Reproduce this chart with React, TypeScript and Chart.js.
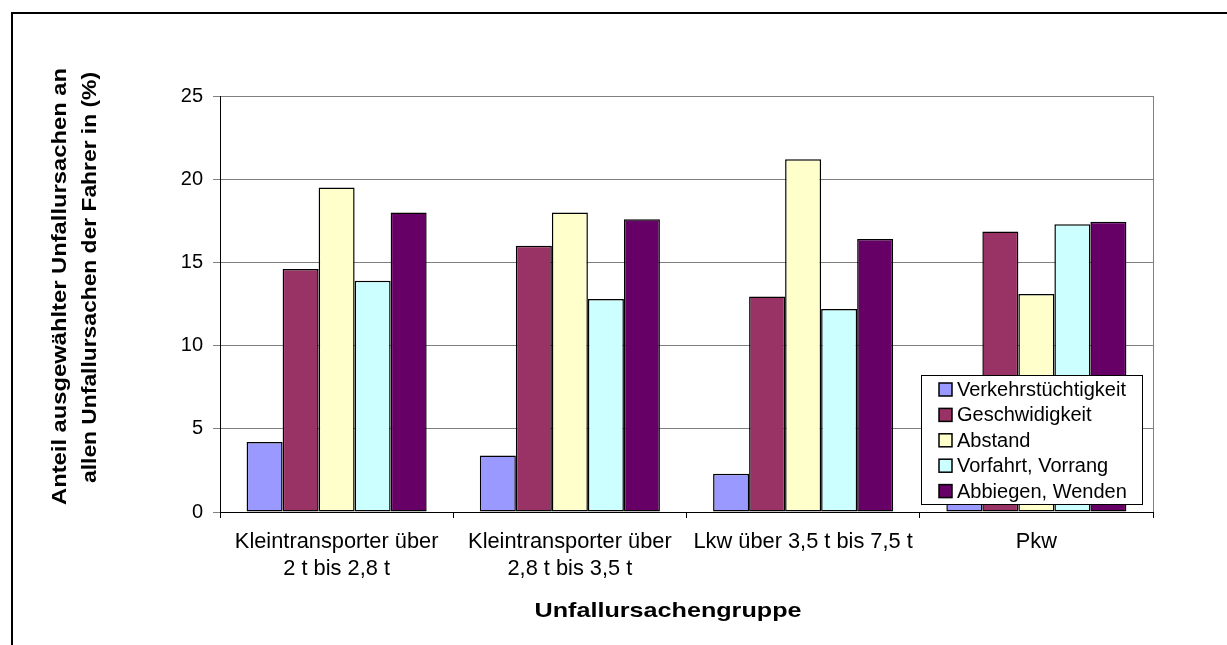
import React, { useEffect, useRef } from "react";
import { Chart, registerables } from "chart.js";

Chart.register(...registerables);

const FONT = "'Liberation Sans', Arial, Helvetica, sans-serif";

const categories: string[][] = [
  ["Kleintransporter über", "2 t bis 2,8 t"],
  ["Kleintransporter über", "2,8 t bis 3,5 t"],
  ["Lkw über 3,5 t bis 7,5 t"],
  ["Pkw"],
];
const seriesNames = [
  "Verkehrstüchtigkeit",
  "Geschwidigkeit",
  "Abstand",
  "Vorfahrt, Vorrang",
  "Abbiegen, Wenden",
];
const verkehrstuechtigkeit = [4.2, 3.4, 2.3, 1.5];
const geschwidigkeit = [14.6, 16.0, 12.95, 16.85];
const abstand = [19.5, 18.0, 21.2, 13.1];
const vorfahrt = [13.9, 12.8, 12.2, 17.3];
const abbiegen = [18.0, 17.6, 16.4, 17.45];
const seriesColors = ["#9999FF", "#993366", "#FFFFCC", "#CCFFFF", "#660066"];
const yTicks = [0, 5, 10, 15, 20, 25];
const yTitleLines = [
  "Anteil ausgewählter Unfallursachen an",
  "allen Unfallursachen der Fahrer in (%)",
];
const xTitle = "Unfallursachengruppe";

function drawStretched(
  ctx: CanvasRenderingContext2D,
  text: string,
  x: number,
  y: number,
  target: number
) {
  const w = ctx.measureText(text).width;
  const k = target / w;
  ctx.save();
  ctx.translate(x, y);
  ctx.scale(k, 1);
  ctx.fillText(text, 0, 0);
  ctx.restore();
}

const decorPlugin = {
  id: "decor",
  afterDraw(chart: any) {
    const ctx: CanvasRenderingContext2D = chart.ctx;
    const ca = chart.chartArea;
    ctx.save();

    // outer frame (top + left)
    ctx.fillStyle = "#000";
    ctx.fillRect(11, 12, chart.width - 11, 2);
    ctx.fillRect(11, 12, 2, chart.height - 12);

    // right border of plot area
    ctx.strokeStyle = "#808080";
    ctx.lineWidth = 1;
    ctx.beginPath();
    ctx.moveTo(Math.round(ca.right) + 0.5, ca.top);
    ctx.lineTo(Math.round(ca.right) + 0.5, ca.bottom);
    ctx.stroke();

    // y axis title
    ctx.fillStyle = "#000";
    ctx.font = `bold 21px ${FONT}`;
    ctx.textAlign = "center";
    ctx.textBaseline = "alphabetic";
    const yLines = [
      { x: 66, y: 286.5, w: 437 },
      { x: 96, y: 277.5, w: 411 },
    ];
    yTitleLines.forEach((t, i) => {
      ctx.save();
      ctx.translate(yLines[i].x, yLines[i].y);
      ctx.rotate(-Math.PI / 2);
      drawStretched(ctx, t, 0, 0, yLines[i].w);
      ctx.restore();
    });

    // x axis title
    drawStretched(ctx, xTitle, 668, 617, 267);

    // legend
    const bx = Math.round(ca.right) - 232;
    const by = Math.round(ca.bottom) - 137;
    const bw = 221;
    const bh = 129;
    ctx.fillStyle = "#fff";
    ctx.fillRect(bx, by, bw, bh);
    ctx.strokeStyle = "#000";
    ctx.lineWidth = 1;
    ctx.strokeRect(bx + 0.5, by + 0.5, bw, bh);
    ctx.font = `20px ${FONT}`;
    ctx.textAlign = "left";
    ctx.textBaseline = "middle";
    chart.data.datasets.forEach((ds: any, i: number) => {
      const cy = by + 14.5 + i * 25.4;
      ctx.fillStyle = ds.backgroundColor;
      ctx.fillRect(bx + 18, cy - 6.5, 13, 13);
      ctx.strokeStyle = "#000";
      ctx.lineWidth = 1.5;
      ctx.strokeRect(bx + 18, cy - 6.5, 13, 13);
      ctx.fillStyle = "#000";
      ctx.fillText(ds.label, bx + 36, cy + 1);
    });

    ctx.restore();
  },
};

export default function App() {
  const canvasRef = useRef<HTMLCanvasElement | null>(null);

  useEffect(() => {
    if (!canvasRef.current) return;
    const values = [verkehrstuechtigkeit, geschwidigkeit, abstand, vorfahrt, abbiegen];
    const chart = new Chart(canvasRef.current, {
      type: "bar",
      data: {
        labels: categories as any,
        datasets: seriesNames.map((name, i) => ({
          label: name,
          data: values[i],
          backgroundColor: seriesColors[i],
          borderColor: "#000",
          borderWidth: 1.5,
          borderSkipped: false as any,
          categoryPercentage: 0.772,
          barPercentage: 1,
        })),
      },
      options: {
        responsive: false,
        animation: false,
        devicePixelRatio: 1,
        layout: { padding: { top: 96, right: 74, left: 0, bottom: 0 } },
        plugins: {
          legend: { display: false },
          tooltip: { enabled: false },
          title: { display: false },
        },
        scales: {
          x: {
            offset: true,
            grid: {
              display: true,
              offset: true,
              drawOnChartArea: false,
              drawTicks: true,
              tickLength: 6,
              color: "#000",
              lineWidth: 1,
            },
            border: { display: true, color: "#000", width: 1 },
            ticks: {
              color: "#000",
              font: { family: FONT, size: 21.8, lineHeight: 1.24 },
              padding: 10,
              maxRotation: 0,
              minRotation: 0,
              autoSkip: false,
            },
            afterFit: (s: any) => {
              s.height = 133;
            },
          },
          y: {
            min: 0,
            max: 25,
            afterBuildTicks: (s: any) => {
              s.ticks = yTicks.map((v) => ({ value: v }));
            },
            ticks: {
              color: "#000",
              font: { family: FONT, size: 20 },
              padding: 10,
            },
            grid: {
              color: (c: any) => (c.tick && c.tick.value === 0 ? "#000" : "#808080"),
              tickColor: "#808080",
              tickLength: 7,
              lineWidth: 1,
            },
            border: { display: true, color: "#000", width: 1 },
            afterFit: (s: any) => {
              s.width = 220;
            },
          },
        },
      },
      plugins: [decorPlugin],
    });
    return () => chart.destroy();
  }, []);

  return (
    <div
      style={{
        position: "absolute",
        left: 0,
        top: 0,
        width: 1227,
        height: 645,
        background: "#fff",
      }}
    >
      <canvas
        ref={canvasRef}
        width={1227}
        height={645}
        style={{ display: "block", width: 1227, height: 645 }}
      />
    </div>
  );
}
